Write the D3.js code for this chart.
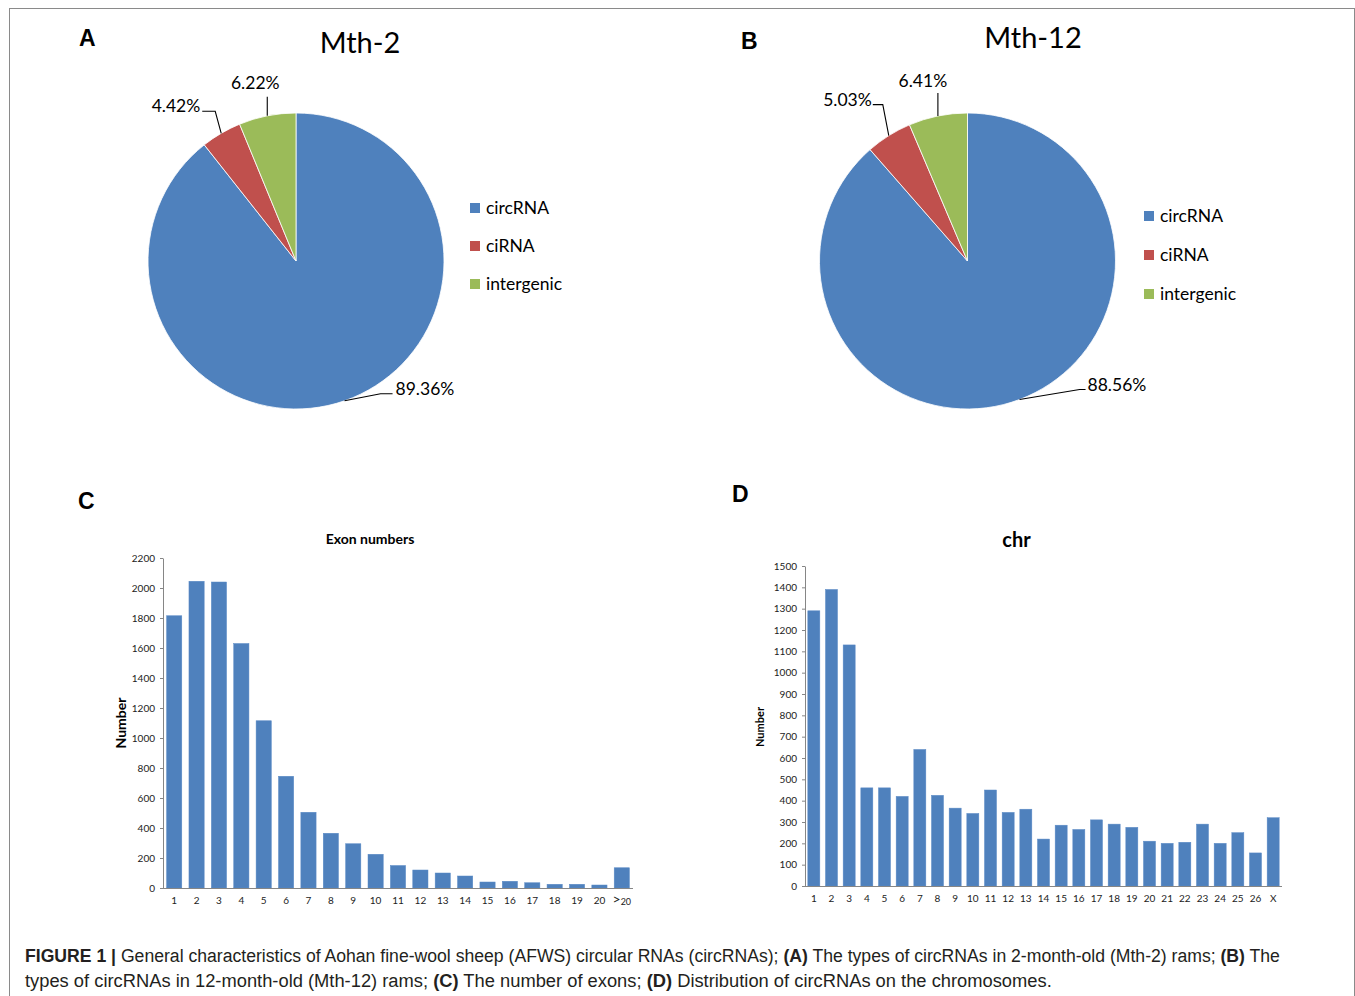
<!DOCTYPE html>
<html>
<head>
<meta charset="utf-8">
<script src="https://d3js.org/d3.v7.min.js"></script>
<style>
  body { margin: 0; background: #fff; }
  svg text { font-family: Lato, "Open Sans", sans-serif; fill: #000; }
  .cap { font-family: "Liberation Sans Narrow", "Arial Narrow", "Liberation Sans", sans-serif; font-size: 18px; fill: #231f20; }
  .axis path, .axis line { stroke: #868686; }
  .axis text { font-family: Lato, sans-serif; font-size: 10px; fill: #222; }
</style>
</head>
<body>
<div id="fig"></div>
<script>
// pie data
var pieCats = ["circRNA", "ciRNA", "intergenic"];
var pieColors = ["#4F81BD", "#C0504D", "#9BBB59"];
var mth2Values = [89.36, 4.42, 6.22];
var mth12Values = [88.56, 5.03, 6.41];

// exon numbers
var exonCats = ["1","2","3","4","5","6","7","8","9","10","11","12","13","14","15","16","17","18","19","20",">20"];
var exonValues = [1815, 2045, 2040, 1630, 1115, 745, 505, 365, 295, 225, 150, 120, 100, 80, 40, 45, 35, 25, 25, 20, 135];

// chromosomes
var chrCats = ["1","2","3","4","5","6","7","8","9","10","11","12","13","14","15","16","17","18","19","20","21","22","23","24","25","26","X"];
var chrValues = [1290, 1390, 1130, 460, 460, 420, 640, 425, 365, 340, 450, 345, 360, 220, 285, 265, 310, 290, 275, 210, 200, 205, 290, 200, 250, 155, 320];

var W = 1355, H = 996;
var svg = d3.select("#fig").append("svg").attr("width", W).attr("height", H);

// frame round the figure
svg.append("rect")
  .attr("x", 9.5).attr("y", 8.5).attr("width", 1345).attr("height", 1010)
  .attr("fill", "none").attr("stroke", "#8a8a8a").attr("stroke-width", 1);

// panel letters
function letter(t, x, y) {
  svg.append("text").attr("x", x).attr("y", y).text(t)
    .style("font-family", "'Liberation Sans', Arial, sans-serif")
    .style("font-weight", "bold").style("font-size", "23px");
}
letter("A", 79, 46);
letter("B", 741, 49);
letter("C", 78, 509);
letter("D", 732, 502);

// ---------- pies ----------
function drawPie(opt) {
  var g = svg.append("g").attr("transform", "translate(" + opt.cx + "," + opt.cy + ")");
  var r = 148;
  var pie = d3.pie().sort(null);
  var arcs = pie(opt.values);
  var arc = d3.arc().innerRadius(0).outerRadius(r);

  g.selectAll("path.slice").data(arcs).enter().append("path")
    .attr("class", "slice")
    .attr("d", arc)
    .attr("fill", function (d, i) { return pieColors[i]; })
    .attr("stroke", "#fff").attr("stroke-width", 0.8);

  svg.append("text").attr("x", opt.titleX).attr("y", opt.titleY)
    .attr("text-anchor", "middle").style("font-size", "29px").text(opt.title);

  // data labels with leader lines
  arcs.forEach(function (d, i) {
    var mid = (d.startAngle + d.endAngle) / 2;
    var ax = Math.sin(mid) * r, ay = -Math.cos(mid) * r;
    var L = opt.labels[i];
    var pts = [[ax, ay], [ax + L.ex, ay + L.ey], [ax + L.ex + L.hx, ay + L.ey]];
    g.append("path")
      .attr("d", d3.line()(pts))
      .attr("fill", "none").attr("stroke", "#000").attr("stroke-width", 1.1);
    g.append("text")
      .attr("x", ax + L.tx).attr("y", ay + L.ty)
      .attr("text-anchor", L.anchor)
      .style("font-size", "17.5px")
      .text(d3.format(".2f")(opt.values[i]) + "%");
  });

  // legend
  var lg = svg.append("g").attr("transform", "translate(" + opt.legX + "," + opt.legY + ")");
  pieCats.forEach(function (c, i) {
    var row = lg.append("g").attr("transform", "translate(0," + i * opt.legStep + ")");
    row.append("rect").attr("x", 0).attr("y", -5).attr("width", 10).attr("height", 10).attr("fill", pieColors[i]);
    row.append("text").attr("x", 16).attr("y", 6).style("font-size", "17.5px").text(c);
  });
}

drawPie({
  cx: 296, cy: 261, values: mth2Values, title: "Mth-2", titleX: 360, titleY: 53,
  legX: 470, legY: 208, legStep: 38,
  labels: [
    { ex: 36, ey: -7, hx: 12, tx: 51, ty: -6, anchor: "start" },
    { ex: -6, ey: -22, hx: -13, tx: -21, ty: -21, anchor: "end" },
    { ex: 0, ey: -19, hx: 0, tx: -12, ty: -27, anchor: "middle" }
  ]
});

drawPie({
  cx: 967.5, cy: 261, values: mth12Values, title: "Mth-12", titleX: 1033, titleY: 48,
  legX: 1144, legY: 216, legStep: 39,
  labels: [
    { ex: 60, ey: -10, hx: 6, tx: 68, ty: -9, anchor: "start" },
    { ex: -6, ey: -31, hx: -10, tx: -17, ty: -30, anchor: "end" },
    { ex: 0, ey: -23, hx: 0, tx: -15, ty: -29, anchor: "middle" }
  ]
});

// ---------- bar charts ----------
function drawBars(opt) {
  var x = d3.scaleBand().domain(opt.cats).range([opt.left, opt.right])
    .paddingInner(0.32).paddingOuter(0.16);
  var y = d3.scaleLinear().domain([0, opt.max]).range([opt.bottom, opt.top]);

  svg.append("g").selectAll("rect").data(opt.values).enter().append("rect")
    .attr("x", function (d, i) { return x(opt.cats[i]); })
    .attr("y", function (d) { return y(d); })
    .attr("width", x.bandwidth())
    .attr("height", function (d) { return opt.bottom - y(d); })
    .attr("fill", "#4F81BD")
    .attr("stroke", "#5a8ac6").attr("stroke-width", 0.5);

  svg.append("g").attr("class", "axis")
    .attr("transform", "translate(" + opt.left + ",0)")
    .call(d3.axisLeft(y).tickValues(d3.range(0, opt.max + 1, opt.step))
      .tickSizeInner(3).tickSizeOuter(0).tickPadding(5).tickFormat(d3.format("d")));

  var xa = svg.append("g").attr("class", "axis")
    .attr("transform", "translate(0," + opt.bottom + ")")
    .call(d3.axisBottom(x).tickSize(0).tickSizeOuter(0).tickPadding(9));
  xa.select(".domain").attr("d", "M" + opt.left + ",0.5H" + opt.right);

  if (opt.cats.indexOf(">20") >= 0) {
    xa.selectAll(".tick text").filter(function (d) { return d === ">20"; })
      .text(null)
      .call(function (t) {
        t.append("tspan").style("font-size", "14px").text(">");
        t.append("tspan").style("font-size", "9px").attr("dy", 1).text("20");
      });
  }

  svg.append("text").attr("x", (opt.left + opt.right) / 2 + opt.titleDx).attr("y", opt.titleY)
    .attr("text-anchor", "middle").style("font-weight", "bold")
    .style("font-size", opt.titleSize).text(opt.title);

  svg.append("text")
    .attr("transform", "translate(" + opt.ylabX + "," + opt.ylabY + ") rotate(-90)")
    .attr("text-anchor", "middle").style("font-weight", "bold")
    .style("font-size", opt.ylabSize).text("Number");
}

drawBars({
  cats: exonCats, values: exonValues, max: 2200, step: 200,
  left: 163, right: 633, top: 558, bottom: 888,
  title: "Exon numbers", titleDx: -28, titleY: 544, titleSize: "14px",
  ylabX: 126, ylabY: 723, ylabSize: "14px"
});

drawBars({
  cats: chrCats, values: chrValues, max: 1500, step: 100,
  left: 805, right: 1282, top: 566, bottom: 886,
  title: "chr", titleDx: -27, titleY: 547, titleSize: "20px",
  ylabX: 764, ylabY: 727, ylabSize: "11px"
});

// ---------- caption ----------
var capLines = [
  [["FIGURE 1 | ", true], ["General characteristics of Aohan fine-wool sheep (AFWS) circular RNAs (circRNAs); ", false],
   ["(A)", true], [" The types of circRNAs in 2-month-old (Mth-2) rams; ", false], ["(B)", true], [" The", false]],
  [["types of circRNAs in 12-month-old (Mth-12) rams; ", false], ["(C)", true], [" The number of exons; ", false],
   ["(D)", true], [" Distribution of circRNAs on the chromosomes.", false]]
];
var capWidths = [1256, 1027];
capLines.forEach(function (line, li) {
  var g = svg.append("g");
  var t = g.append("text").attr("class", "cap").attr("x", 0).attr("y", 0)
    .attr("xml:space", "preserve");
  line.forEach(function (seg) {
    t.append("tspan").style("font-weight", seg[1] ? "bold" : "normal").text(seg[0]);
  });
  // squeeze horizontally to the narrow width of the original caption
  var w = t.node().getComputedTextLength();
  var sx = capWidths[li] / w;
  g.attr("transform", "translate(25," + (962 + li * 25) + ") scale(" + sx + ",1)");
});
</script>
</body>
</html>
